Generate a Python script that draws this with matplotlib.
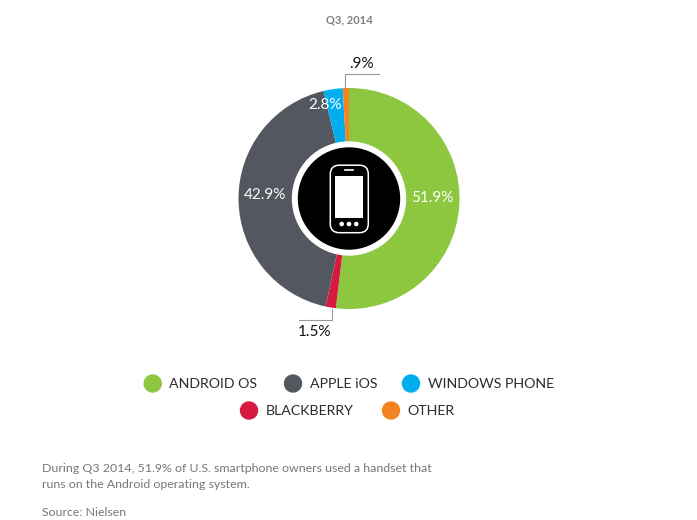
# -*- coding: utf-8 -*-
import matplotlib
matplotlib.use('Agg')
import matplotlib.pyplot as plt
from matplotlib.patches import Circle, FancyBboxPatch, Rectangle

plt.rcParams['font.family'] = ['Lato', 'DejaVu Sans']

W, H = 697, 520

# slices, clockwise from 12 o'clock
categories = ['ANDROID OS', 'BLACKBERRY', 'APPLE iOS', 'WINDOWS PHONE', 'OTHER']
shares = [51.9, 1.5, 42.9, 2.8, 0.9]
slice_colors = ['#8dc63f', '#d7193f', '#54575f', '#00aeef', '#f58220']

# legend rows in the order of the picture
legend_rows = [['ANDROID OS', 'APPLE iOS', 'WINDOWS PHONE'], ['BLACKBERRY', 'OTHER']]

title = 'Q3, 2014'
caption = ['During Q3 2014, 51.9% of U.S. smartphone owners used a handset that',
           'runs on the Android operating system.']
source = 'Source: Nielsen'


def py(y):
    # pixel row from the top -> axes y
    return H - y


def fmt_share(v):
    s = f'{v:.1f}%'
    return s[1:] if s.startswith('0') else s


fig = plt.figure(figsize=(W / 100, H / 100), dpi=100)
ax = fig.add_axes([0, 0, 1, 1])

cx, cy, r = 349, 198.5, 110.5
ax.pie(shares, colors=slice_colors, startangle=90, counterclock=False,
       center=(cx, py(cy)), radius=r, frame=True)
ax.set_xlim(0, W)
ax.set_ylim(0, H)
ax.set_aspect('equal')
ax.axis('off')

# centre badge
ax.add_patch(Circle((cx, py(cy)), 56.5, color='white', zorder=3))
ax.add_patch(Circle((cx, py(cy)), 50.5, color='black', zorder=4))

# phone icon
ax.add_patch(FancyBboxPatch((330.3, py(232.7)), 38, 67.5, boxstyle='round,pad=0,rounding_size=9',
                            fc='none', ec='white', lw=1.1, zorder=5,
                            mutation_aspect=1))
ax.add_patch(Rectangle((335.3, py(218)), 28, 42, fc='white', ec='none', zorder=5))
ax.plot([345, 353], [py(170), py(170)], color='white', lw=1.2, zorder=5)
for dx in (-7.3, 0, 7.3):
    ax.add_patch(Circle((cx + dx, py(224)), 1.6, color='white', zorder=5))

# slice labels
label_size = 11
ax.text(432.5, py(198), fmt_share(shares[0]), color='white', fontsize=label_size, ha='center', va='center', zorder=6)
ax.text(265, py(195), fmt_share(shares[2]), color='white', fontsize=label_size, ha='center', va='center', zorder=6)
ax.text(325, py(105), fmt_share(shares[3]), color='white', fontsize=label_size, ha='center', va='center', zorder=6)

# leader lines and outside labels
ax.plot([344.7, 344.7, 379], [py(88), py(74.3), py(74.3)], color='#999999', lw=0.8)
ax.text(361.5, py(63.5), fmt_share(shares[4]), color='#111111', fontsize=label_size, ha='center', va='center')
ax.plot([332, 332, 299], [py(308.5), py(320), py(320)], color='#999999', lw=0.8)
ax.text(315, py(332), fmt_share(shares[1]), color='#111111', fontsize=label_size, ha='center', va='center')

# legend
color_of = dict(zip(categories, slice_colors))
marker_x = [[152.7, 293, 411], [249, 391]]
legend_y = [383.5, 410.5]
for row, xs, y in zip(legend_rows, marker_x, legend_y):
    for name, x in zip(row, xs):
        ax.add_patch(Circle((x, py(y)), 8.5, color=color_of[name]))
        ax.text(x + 16.5, py(y + 0.5), name, color='#2b2b2b', fontsize=10.2, ha='left', va='center')

# title and notes
ax.text(349, py(20), title, color='#808080', fontsize=8, fontweight='bold', ha='center', va='center')
ax.text(42, py(468), caption[0], color='#777777', fontsize=8.9, ha='left', va='center')
ax.text(42, py(484), caption[1], color='#777777', fontsize=8.9, ha='left', va='center')
ax.text(42, py(512), source, color='#777777', fontsize=8.9, ha='left', va='center')

fig.savefig('out.png', dpi=100)
